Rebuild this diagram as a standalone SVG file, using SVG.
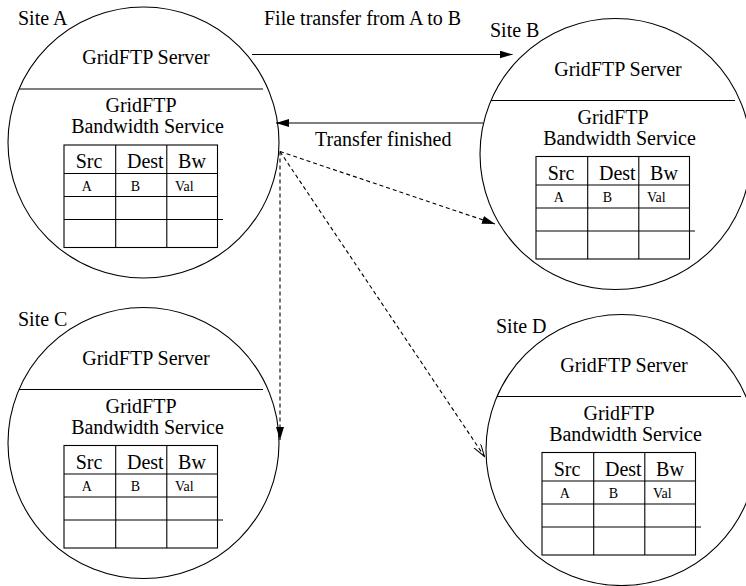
<svg xmlns="http://www.w3.org/2000/svg" width="746" height="586" viewBox="0 0 746 586">
  <style>
    .ring { fill: none; stroke: #000; stroke-width: 1.1; }
    .rule { stroke: #000; stroke-width: 1.1; }
    .grid { fill: none; stroke: #000; stroke-width: 1.1; }
    .t { font-family: "Liberation Serif", "DejaVu Serif", serif; font-size: 20px; fill: #000; }
    .mid { text-anchor: middle; }
    .s { font-family: "Liberation Serif", "DejaVu Serif", serif; font-size: 14px; fill: #000; }
    .solid { fill: none; stroke: #000; stroke-width: 1.1; }
    .dash { fill: none; stroke: #000; stroke-width: 1.1; stroke-dasharray: 4 3; }
  </style>
  <defs>
    <marker id="head" markerUnits="userSpaceOnUse" markerWidth="14" markerHeight="10" refX="13" refY="4" orient="auto">
      <path d="M0,0 L13,4 L0,8 Z" fill="#000"/>
    </marker>
    <marker id="open" markerUnits="userSpaceOnUse" markerWidth="14" markerHeight="10" refX="13" refY="4" orient="auto">
      <path d="M0,0 L13,4 L0,8" fill="none" stroke="#000" stroke-width="1"/>
    </marker>
    <!-- one site: server on top, bandwidth service with its table below -->
    <g id="site">
      <circle class="ring" cx="143.5" cy="142.5" r="135.5"/>
      <line class="rule" x1="19" y1="89" x2="263" y2="89"/>
      <text class="t mid" x="146" y="64">GridFTP Server</text>
      <text class="t mid" x="141" y="112">GridFTP</text>
      <text class="t mid" x="147.5" y="133">Bandwidth Service</text>
      <rect class="grid" x="64" y="145" width="153.5" height="102.5"/>
      <line class="rule" x1="64" y1="173.5" x2="217.5" y2="173.5"/>
      <line class="rule" x1="64" y1="196.5" x2="217.5" y2="196.5"/>
      <line class="rule" x1="64" y1="219.5" x2="223" y2="219.5"/>
      <line class="rule" x1="115.7" y1="145" x2="115.7" y2="247.5"/>
      <line class="rule" x1="166.8" y1="145" x2="166.8" y2="247.5"/>
      <text class="t mid" x="89" y="168">Src</text>
      <text class="t" x="127" y="168">Dest</text>
      <text class="t mid" x="192" y="168">Bw</text>
      <text class="s mid" x="86.7" y="190.5">A</text>
      <text class="s mid" x="135.3" y="190.5">B</text>
      <text class="s" x="175" y="190.5">Val</text>
    </g>
  </defs>

  <g id="siteA">
    <use href="#site"/>
    <text class="t" x="18" y="25">Site A</text>
  </g>
  <g id="siteB" transform="translate(472,11.5)">
    <use href="#site"/>
    <text class="t" x="18" y="25">Site B</text>
  </g>
  <g id="siteC" transform="translate(0,300.5)">
    <use href="#site"/>
    <text class="t" x="18" y="25">Site C</text>
  </g>
  <g id="siteD" transform="translate(478,307.5)">
    <use href="#site"/>
    <text class="t" x="18" y="25">Site D</text>
  </g>

  <g id="connectors">
    <line class="solid" x1="252" y1="54.5" x2="512.5" y2="54.5" marker-end="url(#head)"/>
    <text class="t" x="264" y="25">File transfer from A to B</text>
    <line class="solid" x1="483" y1="123" x2="276" y2="123" marker-end="url(#head)"/>
    <text class="t" x="315" y="146">Transfer finished</text>
    <line class="dash" x1="280" y1="151.5" x2="495" y2="224" marker-end="url(#head)"/>
    <line class="dash" x1="280" y1="151.5" x2="280" y2="440" marker-end="url(#head)"/>
    <line class="dash" x1="280" y1="151.5" x2="484.5" y2="456.5" marker-end="url(#open)"/>
  </g>
</svg>
